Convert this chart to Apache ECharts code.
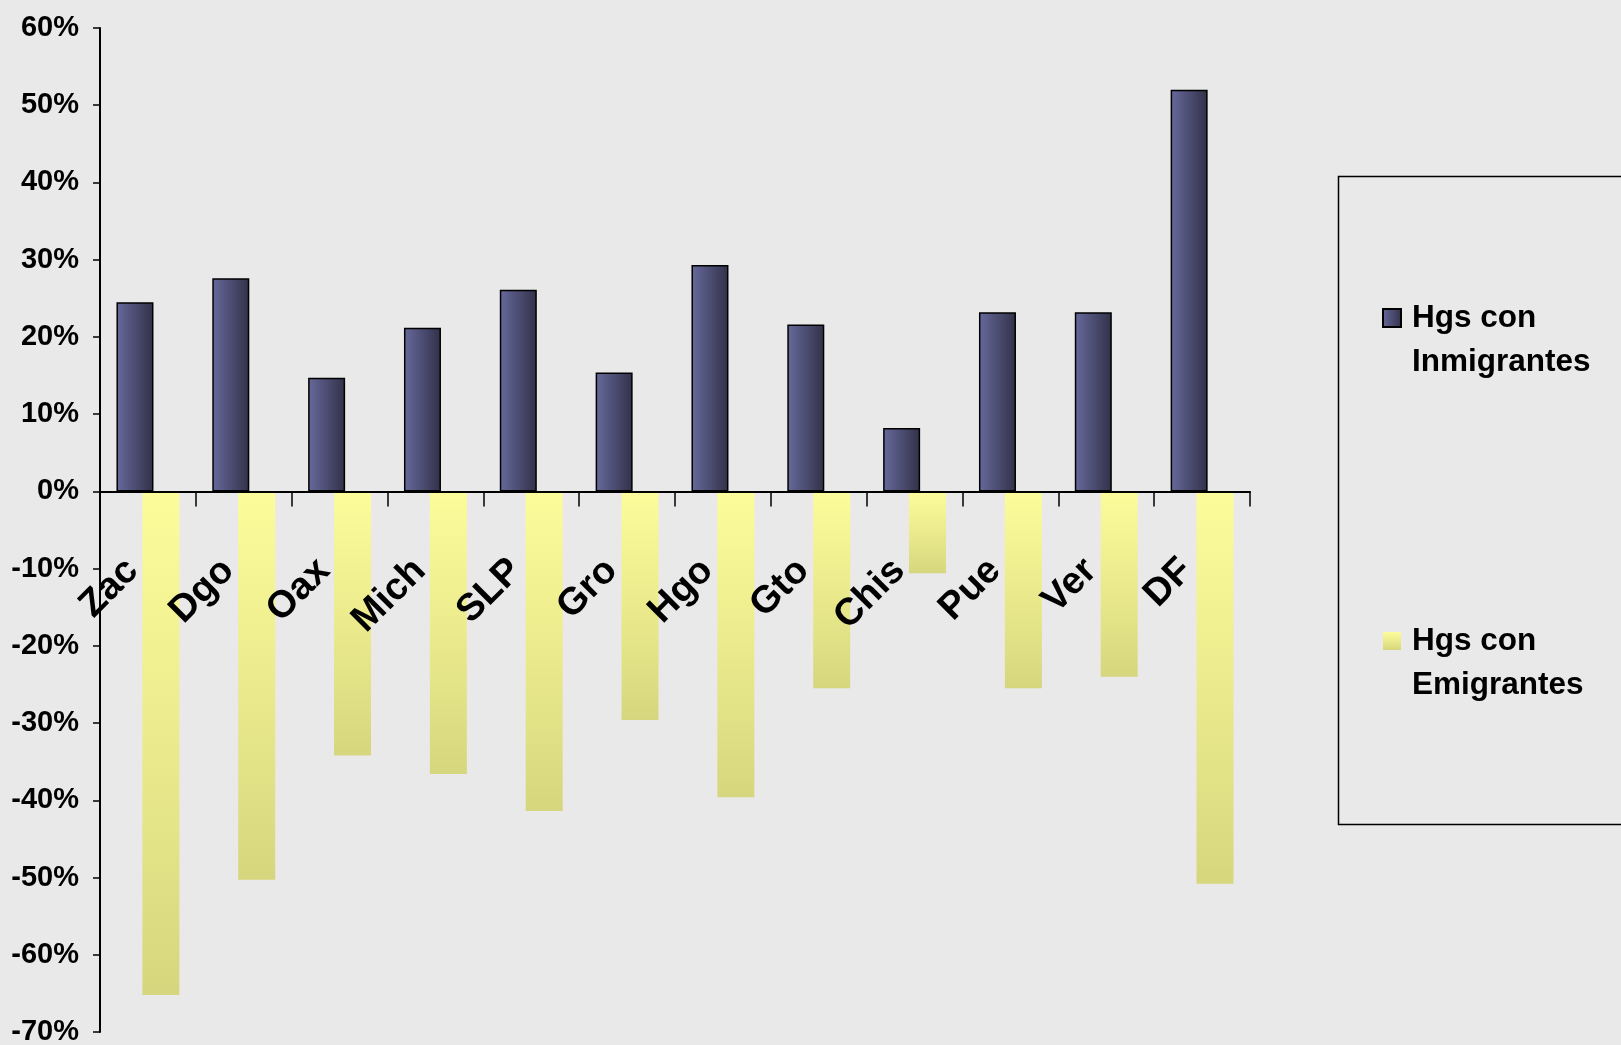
<!DOCTYPE html>
<html>
<head>
<meta charset="utf-8">
<script src="https://cdn.jsdelivr.net/npm/echarts@6/dist/echarts.min.js"></script>
<style>
html,body{margin:0;padding:0;background:#e9e9e9;}
#chart{width:1621px;height:1045px;}
</style>
</head>
<body>
<div id="chart"></div>
<script>
const categories = ['Zac','Dgo','Oax','Mich','SLP','Gro','Hgo','Gto','Chis','Pue','Ver','DF'];
const inmigrantes = [24.5, 27.6, 14.7, 21.2, 26.1, 15.4, 29.3, 21.6, 8.2, 23.2, 23.2, 52.0];
const emigrantes = [-65.2, -50.3, -34.2, -36.6, -41.4, -29.6, -39.6, -25.5, -10.6, -25.5, -24.0, -50.8];
const seriesNames = ['Hgs con\nInmigrantes', 'Hgs con\nEmigrantes'];
const yTicks = {min: -70, max: 60, interval: 10};

const FONT = "'Liberation Sans', Arial, sans-serif";
const W = 1621, H = 1045;
const gridTop = 28, gridBottom = 13;
const gridH = H - gridTop - gridBottom;
// distance from grid bottom up to the zero line, derived from the value scale
const zeroOffset = gridH * (0 - yTicks.min) / (yTicks.max - yTicks.min);

const chart = echarts.init(document.getElementById('chart'));
const blueGrad = new echarts.graphic.LinearGradient(0, 0, 1, 0, [
  {offset: 0, color: '#67699c'}, {offset: 1, color: '#313148'}]);
const yellowGrad = new echarts.graphic.LinearGradient(0, 0, 0, 1, [
  {offset: 0, color: '#fcfc9b'}, {offset: 0.5, color: '#ebeb8d'}, {offset: 1, color: '#d6d67e'}]);

chart.setOption({
  backgroundColor: '#e9e9e9',
  animation: false,
  grid: {left: 100, right: 371, top: gridTop, bottom: gridBottom, containLabel: false, outerBoundsMode: 'none'},
  xAxis: {
    type: 'category',
    data: categories,
    z: 5,
    offset: -zeroOffset,
    axisLine: {onZero: false, lineStyle: {color: '#000', width: 2}},
    axisTick: {show: true, length: 15, lineStyle: {color: '#000', width: 1.5}},
    axisLabel: {interval: 0, rotate: 45, margin: 58, padding: [0, 22, 0, 0], color: '#000', fontSize: 38, fontWeight: 'bold', fontFamily: FONT}
  },
  yAxis: {
    type: 'value',
    min: yTicks.min, max: yTicks.max, interval: yTicks.interval,
    splitLine: {show: false},
    axisLine: {show: true, lineStyle: {color: '#000', width: 2}},
    axisTick: {show: true, length: 7, lineStyle: {color: '#000', width: 1.5}},
    axisLabel: {formatter: '{value}%', margin: 21, color: '#000', fontSize: 29, fontWeight: 'bold', fontFamily: FONT}
  },
  legend: {
    orient: 'vertical',
    left: 1382, top: 252,
    padding: 0,
    itemGap: 191,
    itemWidth: 18, itemHeight: 18,
    icon: 'rect',
    formatter: function (name) { return '\u00a0\n' + name; },
    textStyle: {fontSize: 31.5, fontWeight: 'bold', fontFamily: FONT, color: '#000', lineHeight: 44, padding: [0, 0, 0, 6]}
  },
  graphic: [{
    type: 'rect', left: 1336, top: 174, silent: true,
    shape: {width: 400, height: 648},
    style: {fill: 'none', stroke: '#000', lineWidth: 1.5}
  }],
  series: [
    {name: seriesNames[0], type: 'bar', data: inmigrantes, barWidth: 37, barGap: '-30%',
     itemStyle: {color: blueGrad, borderColor: '#000', borderWidth: 1.5}},
    {name: seriesNames[1], type: 'bar', data: emigrantes, barWidth: 37,
     itemStyle: {color: yellowGrad}}
  ]
});
</script>
</body>
</html>
